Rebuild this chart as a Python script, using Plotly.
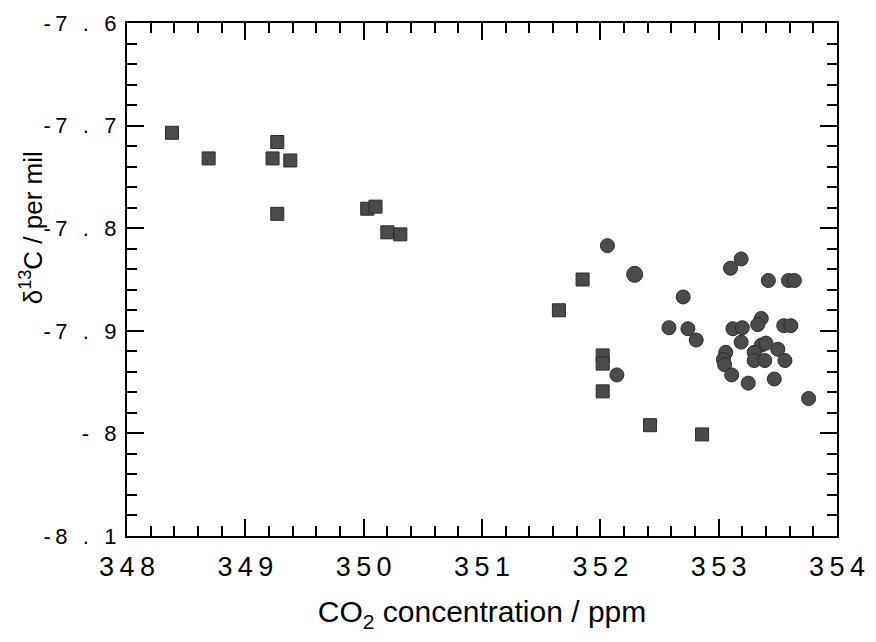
import plotly.graph_objects as go

# ---- data ----
sq_x = [348.38, 348.69, 349.27, 349.23, 349.38, 349.27, 350.03, 350.10, 350.20, 350.31,
        351.85, 351.65, 352.02, 352.02, 352.02, 352.42, 352.86]
sq_y = [-7.707, -7.732, -7.716, -7.732, -7.734, -7.786, -7.781, -7.779, -7.804, -7.806,
        -7.850, -7.880, -7.924, -7.932, -7.959, -7.992, -8.001]

ci_x = [352.06, 352.29, 352.70, 352.58, 352.74, 352.81, 352.14, 353.19, 353.10, 353.42,
        353.59, 353.64, 353.36, 353.33, 353.55, 353.61, 353.12, 353.20, 353.19, 353.36,
        353.40, 353.30, 353.50, 353.56, 353.30, 353.39, 353.06, 353.04, 353.05, 353.11,
        353.25, 353.47, 353.76]
ci_y = [-7.817, -7.845, -7.867, -7.897, -7.898, -7.909, -7.943, -7.830, -7.839, -7.851,
        -7.851, -7.851, -7.888, -7.894, -7.895, -7.895, -7.898, -7.897, -7.911, -7.914,
        -7.912, -7.921, -7.918, -7.929, -7.929, -7.929, -7.921, -7.928, -7.933, -7.943,
        -7.951, -7.947, -7.966]

x_range = [348, 354]
y_range = [-8.1, -7.6]

x_ticks = [348, 349, 350, 351, 352, 353, 354]
x_tick_labels = ["3\u20094\u20098", "3\u20094\u20099", "3\u20095\u20090", "3\u20095\u20091",
                 "3\u20095\u20092", "3\u20095\u20093", "3\u20095\u20094"]
y_ticks = [-7.6, -7.7, -7.8, -7.9, -8.0, -8.1]
y_tick_labels = ["-\u20097\u2002\u2009.\u2002\u20096", "-\u20097\u2002\u2009.\u2002\u20097",
                 "-\u20097\u2002\u2009.\u2002\u20098", "-\u20097\u2002\u2009.\u2002\u20099",
                 "-\u2002\u20098", "-\u20098\u2002\u2009.\u2002\u20091"]

# minor tick positions (every 0.2 ppm and every 0.02 per mil)
x_minor = [round(348 + 0.2 * i, 2) for i in range(31)]
y_minor = [round(-8.1 + 0.02 * i, 3) for i in range(26)]

# ---- styles ----
FILL = "#4b4b4b"
EDGE = "#2a2a2a"
FONT = "Liberation Sans, Arial, sans-serif"
ci_sizes = [14] * len(ci_x)
ci_sizes[1] = 16

fig = go.Figure()
fig.add_trace(go.Scatter(
    x=sq_x, y=sq_y, mode="markers",
    marker=dict(symbol="square", size=13, color=FILL, opacity=1, line=dict(color=EDGE, width=1)),
    showlegend=False, hoverinfo="x+y"))
fig.add_trace(go.Scatter(
    x=ci_x, y=ci_y, mode="markers", xaxis="x2", yaxis="y2",
    marker=dict(symbol="circle", size=ci_sizes, color=FILL, opacity=1, line=dict(color=EDGE, width=1)),
    showlegend=False, hoverinfo="x+y"))

axis_common = dict(
    showgrid=False, zeroline=False, showline=True, linecolor="black", linewidth=2,
    mirror="ticks", ticks="inside", tickwidth=2, tickcolor="black",
)

fig.update_layout(
    # labelled axes with long ticks
    xaxis=dict(range=x_range, tickmode="array", tickvals=x_ticks, ticktext=x_tick_labels,
               ticklen=17,
               tickfont=dict(family=FONT, size=27, color="black"), ticklabelstandoff=6,
               title=dict(text="CO<sub>2</sub> concentration / ppm",
                          font=dict(family=FONT, size=30, color="black"), standoff=20),
               **axis_common),
    yaxis=dict(range=y_range, tickmode="array", tickvals=y_ticks, ticktext=y_tick_labels,
               ticklen=17,
               tickfont=dict(family=FONT, size=22, color="black"), ticklabelstandoff=4,
               **axis_common),
    # overlaid axes carrying the short ticks
    xaxis2=dict(range=x_range, tickmode="array", tickvals=x_minor, ticklen=10,
                showticklabels=False,
                overlaying="x", anchor="y2", side="bottom", **axis_common),
    yaxis2=dict(range=y_range, tickmode="array", tickvals=y_minor, ticklen=10,
                showticklabels=False,
                overlaying="y", anchor="x2", side="left", **axis_common),
)

fig.add_annotation(
    text="\u03b4<sup>13</sup>C / per mil", textangle=-90,
    xref="paper", yref="paper", x=-0.135, y=0.6, xanchor="center", yanchor="middle",
    showarrow=False, font=dict(family=FONT, size=26, color="black"))

fig.update_layout(
    width=876, height=642,
    margin=dict(l=127, r=38, t=11, b=106, pad=0),
    paper_bgcolor="white", plot_bgcolor="white",
)

fig.write_html("out.html")
